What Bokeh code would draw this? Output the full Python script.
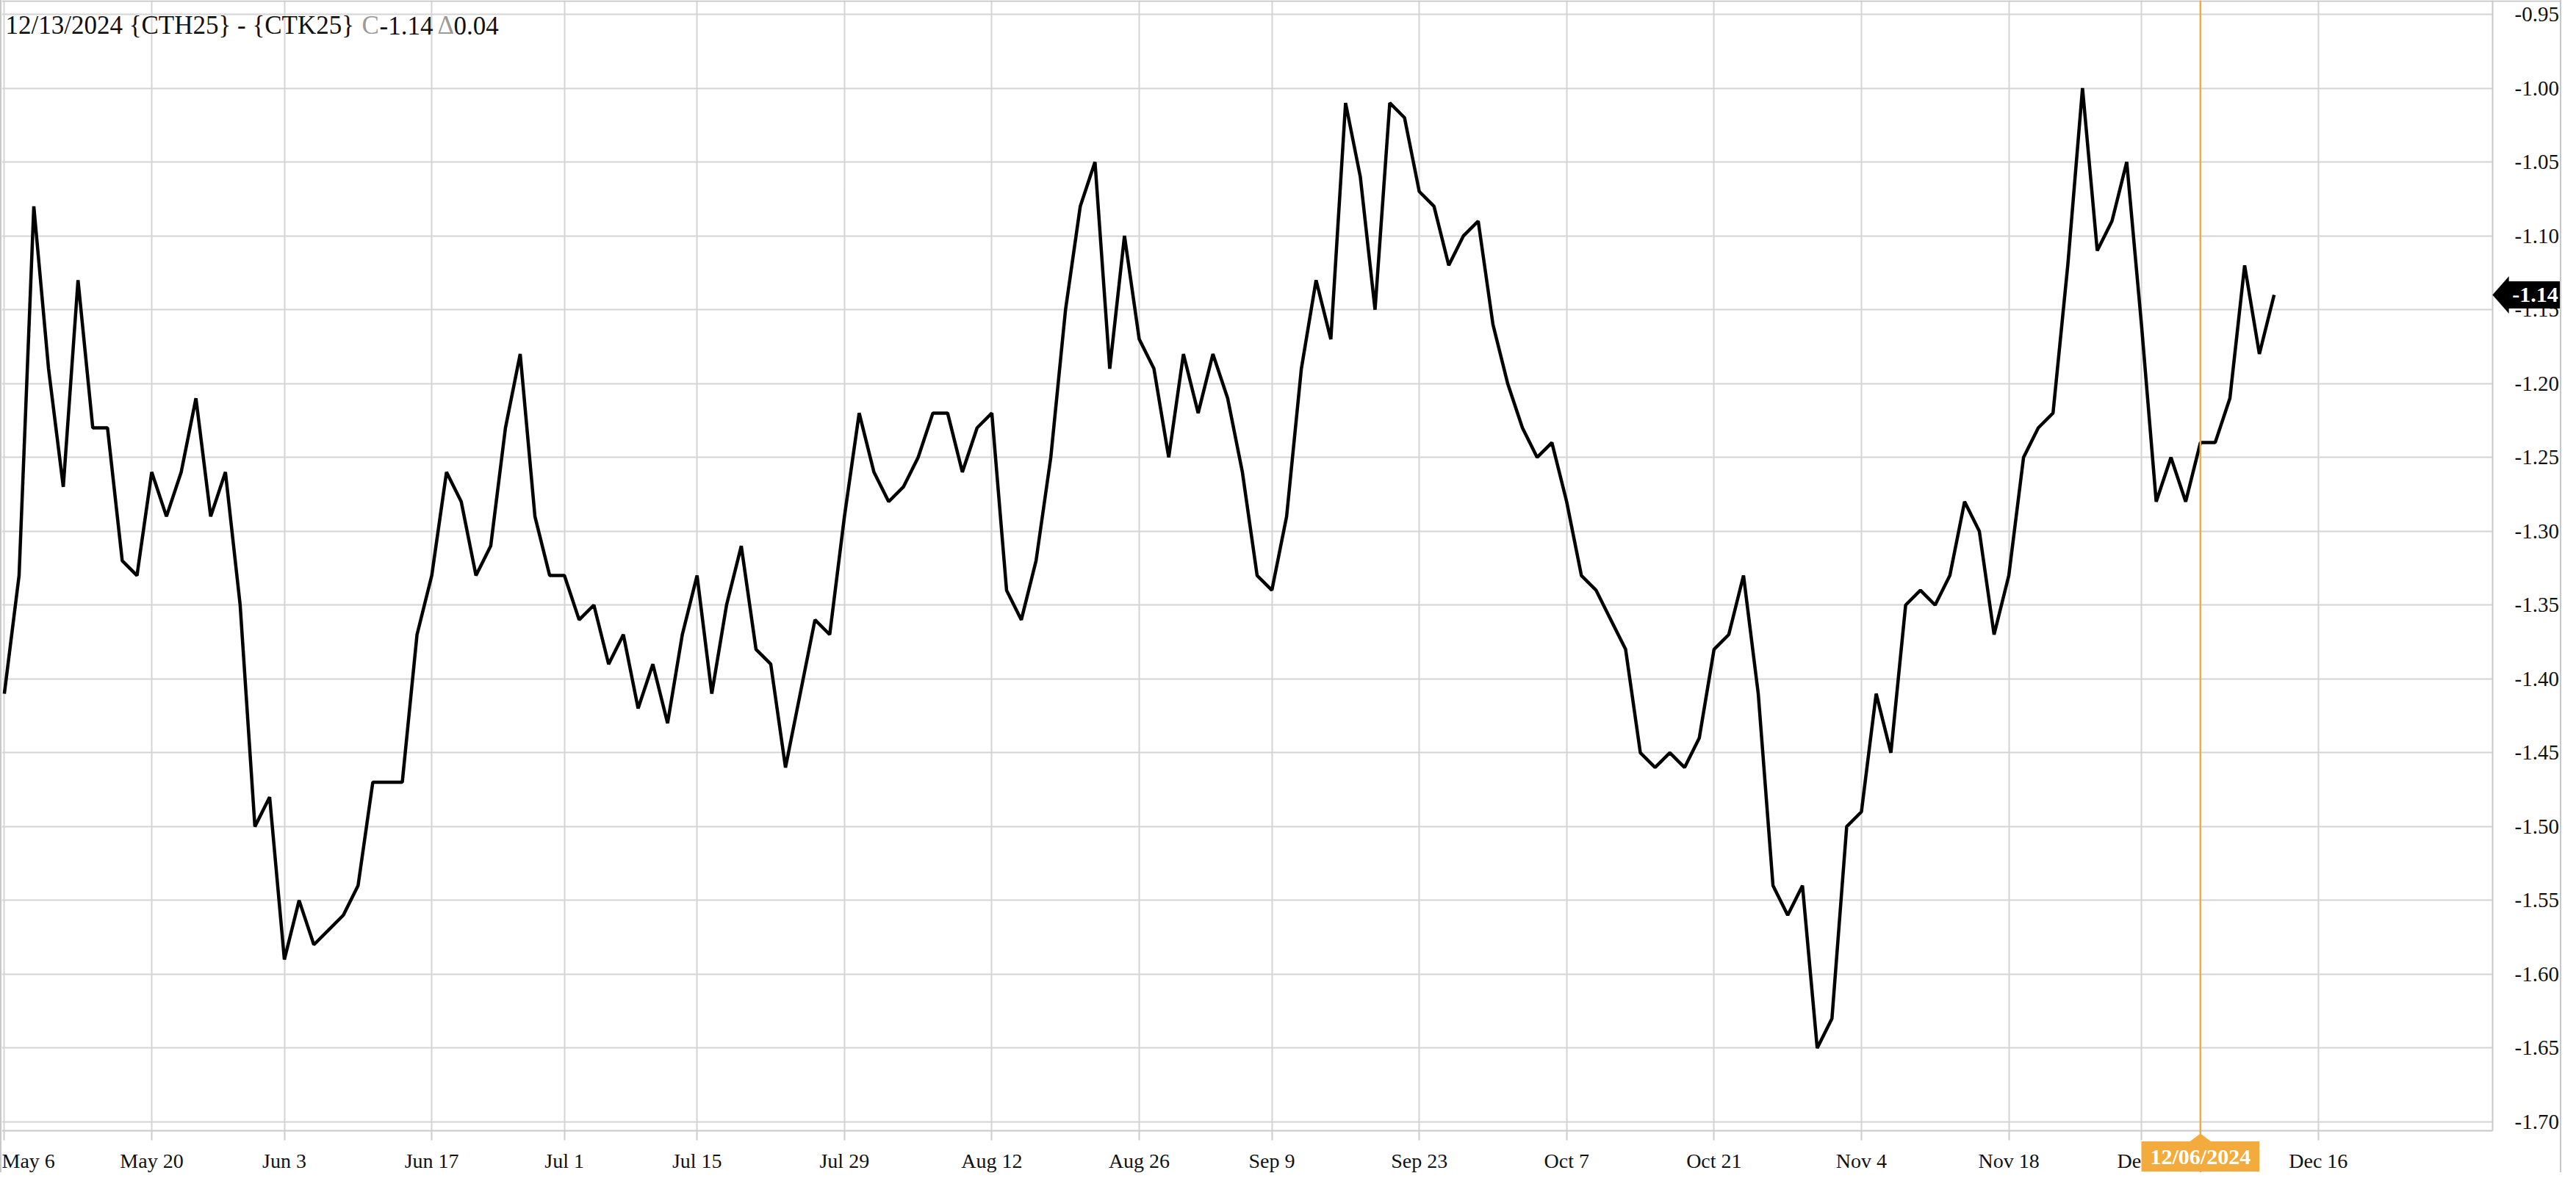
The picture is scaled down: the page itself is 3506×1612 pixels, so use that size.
from bokeh.plotting import figure
from bokeh.models import (Range1d, FixedTicker, PrintfTickFormatter, Label, Span,
                          PolyAnnotation, BoxAnnotation)
from bokeh.embed import file_html
from bokeh.resources import INLINE

# ---------------- data ----------------
spread = [
    -1.41, -1.33, -1.08, -1.19, -1.27, -1.13, -1.23, -1.23, -1.32, -1.33,
    -1.26, -1.29, -1.26, -1.21, -1.29, -1.26, -1.35, -1.50, -1.48, -1.59,
    -1.55, -1.58, -1.57, -1.56, -1.54, -1.47, -1.47, -1.47, -1.37, -1.33,
    -1.26, -1.28, -1.33, -1.31, -1.23, -1.18, -1.29, -1.33, -1.33, -1.36,
    -1.35, -1.39, -1.37, -1.42, -1.39, -1.43, -1.37, -1.33, -1.41, -1.35,
    -1.31, -1.38, -1.39, -1.46, -1.41, -1.36, -1.37, -1.29, -1.22, -1.26,
    -1.28, -1.27, -1.25, -1.22, -1.22, -1.26, -1.23, -1.22, -1.34, -1.36,
    -1.32, -1.25, -1.15, -1.08, -1.05, -1.19, -1.10, -1.17, -1.19, -1.25,
    -1.18, -1.22, -1.18, -1.21, -1.26, -1.33, -1.34, -1.29, -1.19, -1.13,
    -1.17, -1.01, -1.06, -1.15, -1.01, -1.02, -1.07, -1.08, -1.12, -1.10,
    -1.09, -1.16, -1.20, -1.23, -1.25, -1.24, -1.28, -1.33, -1.34, -1.36,
    -1.38, -1.45, -1.46, -1.45, -1.46, -1.44, -1.38, -1.37, -1.33, -1.41,
    -1.54, -1.56, -1.54, -1.65, -1.63, -1.50, -1.49, -1.41, -1.45, -1.35,
    -1.34, -1.35, -1.33, -1.28, -1.30, -1.37, -1.33, -1.25, -1.23, -1.22,
    -1.12, -1.00, -1.11, -1.09, -1.05, -1.16, -1.28, -1.25, -1.28, -1.24,
    -1.24, -1.21, -1.12, -1.18, -1.14,
]
x_tick_idx = [0, 10, 19, 29, 38, 47, 57, 67, 77, 86, 96, 106, 116, 126, 136, 145, 157]
x_tick_labels = ["May 6", "May 20", "Jun 3", "Jun 17", "Jul 1", "Jul 15", "Jul 29",
                 "Aug 12", "Aug 26", "Sep 9", "Sep 23", "Oct 7", "Oct 21", "Nov 4",
                 "Nov 18", "Dec 2", "Dec 16"]
y_ticks = [-1.70, -1.65, -1.60, -1.55, -1.50, -1.45, -1.40, -1.35, -1.30,
           -1.25, -1.20, -1.15, -1.10, -1.05, -1.00, -0.95]
last_date = "12/13/2024"
series_name = "{CTH25} - {CTK25}"
marker_idx = 149
marker_label = "12/06/2024"

# ---------------- style / geometry ----------------
FONT = "Liberation Serif"
GRID = "#d4d4d4"
FRAME = "#c8c8c8"
ORANGE = "#f2ab3c"
GREY_TXT = "#9a9a9a"

W, H = 3486, 1596            # canvas (frame covers all of it)
CX, CY = 10, 8               # page position of canvas origin
X0, X1 = -0.1695, 173.61
Y0, Y1 = -1.73431, -0.94055


def px_to_x(px):   # page px -> data x
    return X0 + (px - CX) * (X1 - X0) / W


def py_to_y(py):   # page py -> data y
    return Y1 - (py - CY) * (Y1 - Y0) / H


X_EDGE = px_to_x(3400)   # visual right edge of plotting area
Y_EDGE = py_to_y(1547)   # visual bottom edge of plotting area

p = figure(width=W, height=H, output_backend="svg", toolbar_location=None,
           x_range=Range1d(X0, X1), y_range=Range1d(Y0, Y1),
           y_axis_location="right", min_border_left=0, min_border_right=0,
           min_border_top=0, min_border_bottom=0)
p.styles = {"border-left": f"2px solid {FRAME}", "border-right": f"2px solid {FRAME}"}
p.outline_line_color = None
p.background_fill_color = "white"
p.border_fill_color = "white"

# white masks so the grid stops at the plotting area
p.quad(left=[X_EDGE], right=[X1], bottom=[Y0], top=[Y1], fill_color="white", line_color=None)
p.quad(left=[X0], right=[X_EDGE], bottom=[Y0], top=[Y_EDGE], fill_color="white", line_color=None)

p.line(x=list(range(len(spread))), y=spread, line_color="black", line_width=4.5)

xa = p.xaxis[0]
xa.fixed_location = Y_EDGE
xa.bounds = (X0, X_EDGE)
xa.ticker = FixedTicker(ticks=x_tick_idx)
xa.major_label_overrides = dict(zip(x_tick_idx, x_tick_labels))
xa.major_label_text_font = FONT
xa.major_label_text_font_size = "28px"
xa.major_label_text_color = "#111111"
xa.axis_line_color = FRAME
xa.axis_line_width = 2
xa.major_tick_line_color = "#cccccc"
xa.major_tick_line_width = 2
xa.major_tick_out = 13
xa.major_tick_in = 0
xa.minor_tick_line_color = None
xa.major_label_standoff = 12

ya = p.yaxis[0]
ya.fixed_location = X_EDGE
ya.bounds = (Y_EDGE, Y1)
ya.ticker = FixedTicker(ticks=y_ticks)
ya.formatter = PrintfTickFormatter(format="%.2f")
ya.major_label_text_font = FONT
ya.major_label_text_font_size = "29px"
ya.major_label_text_color = "#111111"
ya.axis_line_color = FRAME
ya.axis_line_width = 2
ya.major_tick_line_color = None
ya.major_tick_out = 0
ya.major_tick_in = 0
ya.minor_tick_line_color = None
ya.major_label_standoff = 30

p.xgrid.grid_line_color = GRID
p.xgrid.grid_line_width = 2
p.ygrid.grid_line_color = GRID
p.ygrid.grid_line_width = 2

# top border strip
p.add_layout(BoxAnnotation(bottom=py_to_y(10), fill_color=FRAME, fill_alpha=1.0,
                           line_color=None))

# marker line
p.add_layout(Span(location=marker_idx, dimension="height", line_color=ORANGE, line_width=2.5))

# title pieces
last = spread[-1]
chg = spread[-1] - spread[-2]
fs = 35
ty = py_to_y(42)
pieces = [
    (f"{last_date} {series_name}", "#111111", 15),
    ("C", GREY_TXT, 500),
    (f"{last:.2f}", "#111111", 524),
    ("\u0394", GREY_TXT, 603),
    (f"{chg:.2f}", "#111111", 625),
]
for txt, col, px in pieces:
    p.add_layout(Label(x=px_to_x(px), y=ty, text=txt, text_color=col, text_font=FONT,
                       text_font_size=f"{fs}px", text_align="left",
                       text_baseline="alphabetic"))

# last value tag on right axis
half = 25 * (Y1 - Y0) / H
p.add_layout(PolyAnnotation(xs=[X_EDGE, px_to_x(3422), px_to_x(3422)],
                            ys=[last, last + half, last - half],
                            fill_color="black", fill_alpha=1.0, line_color="black"))
p.add_layout(Label(x=px_to_x(3458), y=last, text=f"{last:.2f}", text_color="white",
                   text_font=FONT, text_font_size="30px", text_font_style="bold",
                   text_align="center", text_baseline="middle",
                   background_fill_color="black", padding=dict(x=7, y=9)))

# marker date box on x axis
dx = 16 * (X1 - X0) / W
p.add_layout(PolyAnnotation(xs=[marker_idx - dx, marker_idx, marker_idx + dx],
                            ys=[py_to_y(1563), py_to_y(1551), py_to_y(1563)],
                            fill_color=ORANGE, fill_alpha=1.0, line_color=ORANGE))
p.add_layout(Label(x=marker_idx, y=py_to_y(1582), text=marker_label, text_color="white",
                   text_font=FONT, text_font_size="30px", text_font_style="bold",
                   text_align="center", text_baseline="middle",
                   background_fill_color=ORANGE, padding=dict(x=12, y=4)))

open("out.html", "w").write(file_html(p, INLINE))
